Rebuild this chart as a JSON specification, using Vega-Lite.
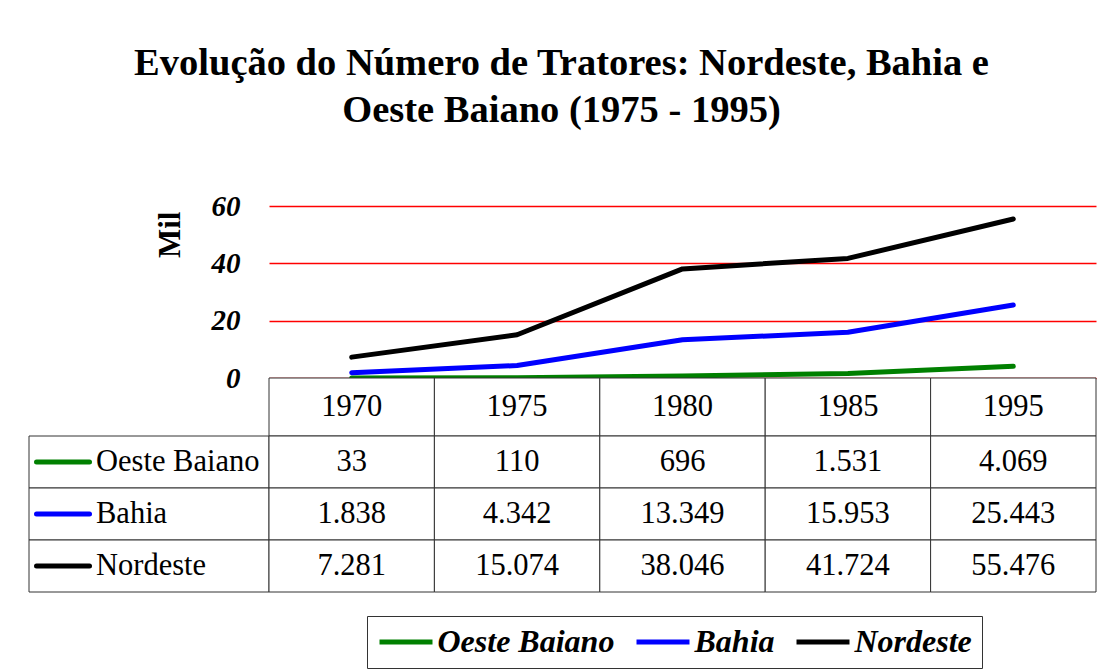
{
  "$schema": "https://vega.github.io/schema/vega-lite/v6.json",
  "background": "white",
  "padding": {"left": 26, "top": 43, "right": 0, "bottom": 0},
  "title": {
    "text": ["Evolução do Número de Tratores: Nordeste, Bahia e", "Oeste Baiano (1975 - 1995)"],
    "font": "Liberation Serif",
    "fontSize": 38.5,
    "fontWeight": "bold",
    "lineHeight": 47,
    "color": "black",
    "anchor": "middle",
    "offset": 62
  },
  "datasets": {
    "tratores": [
      {"regiao": "Oeste Baiano", "ano": "1970", "tratores": 33},
      {"regiao": "Oeste Baiano", "ano": "1975", "tratores": 110},
      {"regiao": "Oeste Baiano", "ano": "1980", "tratores": 696},
      {"regiao": "Oeste Baiano", "ano": "1985", "tratores": 1531},
      {"regiao": "Oeste Baiano", "ano": "1995", "tratores": 4069},
      {"regiao": "Bahia", "ano": "1970", "tratores": 1838},
      {"regiao": "Bahia", "ano": "1975", "tratores": 4342},
      {"regiao": "Bahia", "ano": "1980", "tratores": 13349},
      {"regiao": "Bahia", "ano": "1985", "tratores": 15953},
      {"regiao": "Bahia", "ano": "1995", "tratores": 25443},
      {"regiao": "Nordeste", "ano": "1970", "tratores": 7281},
      {"regiao": "Nordeste", "ano": "1975", "tratores": 15074},
      {"regiao": "Nordeste", "ano": "1980", "tratores": 38046},
      {"regiao": "Nordeste", "ano": "1985", "tratores": 41724},
      {"regiao": "Nordeste", "ano": "1995", "tratores": 55476}
    ]
  },
  "columns": 2,
  "spacing": 0,
  "bounds": "flush",
  "concat": [
    {
      "data": {"values": []},
      "mark": "point",
      "width": 240,
      "height": 172
    },
    {
      "data": {"name": "tratores"},
      "width": 827,
      "height": 172,
      "mark": {"type": "line", "strokeWidth": 5, "strokeJoin": "round", "strokeCap": "round"},
      "encoding": {
        "x": {"field": "ano", "type": "ordinal", "scale": {"type": "point", "padding": 0.5}, "axis": null},
        "y": {
          "field": "tratores",
          "type": "quantitative",
          "scale": {"domain": [0, 60000], "nice": false},
          "axis": {
            "values": [0, 20000, 40000, 60000],
            "labelExpr": "format(datum.value / 1000, 'd')",
            "title": "Mil",
            "titleFont": "Liberation Serif",
            "titleFontSize": 31,
            "titleFontWeight": "bold",
            "titleColor": "black",
            "titleAnchor": "end",
            "titleY": 5,
            "titlePadding": 25,
            "labelFont": "Liberation Serif",
            "labelFontSize": 29,
            "labelFontStyle": "italic",
            "labelFontWeight": "bold",
            "labelColor": "black",
            "labelPadding": 29,
            "ticks": false,
            "domain": false,
            "grid": true,
            "gridColor": "#ff0000",
            "gridWidth": 1.5,
            "gridOpacity": 1
          }
        },
        "color": {
          "field": "regiao",
          "type": "nominal",
          "scale": {"domain": ["Oeste Baiano", "Bahia", "Nordeste"], "range": ["#008000", "#0000ff", "#000000"]},
          "legend": {
            "orient": "none",
            "legendX": 338,
            "legendY": 410,
            "direction": "horizontal",
            "title": null,
            "strokeColor": "#333333",
            "padding": 10,
            "symbolType": "M-2,0H2",
            "symbolSize": 702,
            "symbolOffset": 13,
            "symbolStrokeWidth": 5,
            "symbolFillColor": "transparent",
            "labelFont": "Liberation Serif",
            "labelFontSize": 32,
            "labelFontStyle": "italic",
            "labelFontWeight": "bold",
            "labelColor": "black",
            "labelOffset": 15.5,
            "columnPadding": 11,
            "labelLimit": 400
          }
        }
      }
    },
    {
      "data": {"values": []},
      "mark": "point",
      "width": 240,
      "height": 58
    },
    {
      "data": {"name": "tratores"},
      "transform": [{"filter": "datum.regiao == 'Nordeste'"}],
      "width": 827,
      "height": 58,
      "encoding": {
        "x": {"field": "ano", "type": "ordinal", "scale": {"paddingInner": 0, "paddingOuter": 0}, "axis": null}
      },
      "layer": [
        {"mark": {"type": "rect", "fill": "white", "stroke": "#333333", "strokeWidth": 1}},
        {
          "mark": {"type": "text", "font": "Liberation Serif", "fontSize": 30.5, "color": "black"},
          "encoding": {"text": {"field": "ano"}}
        }
      ]
    },
    {
      "data": {"name": "tratores"},
      "transform": [{"filter": "datum.ano == '1970'"}],
      "width": 240,
      "height": 156,
      "encoding": {
        "y": {
          "field": "regiao",
          "type": "nominal",
          "scale": {"domain": ["Oeste Baiano", "Bahia", "Nordeste"], "paddingInner": 0, "paddingOuter": 0},
          "axis": null
        }
      },
      "layer": [
        {"mark": {"type": "rect", "fill": "white", "stroke": "#333333", "strokeWidth": 1}},
        {
          "mark": {"type": "point", "shape": "stroke", "size": 2809, "strokeWidth": 5, "strokeCap": "round", "filled": false, "opacity": 1, "xOffset": -86},
          "encoding": {
            "color": {
              "field": "regiao",
              "type": "nominal",
              "scale": {"domain": ["Oeste Baiano", "Bahia", "Nordeste"], "range": ["#008000", "#0000ff", "#000000"]},
              "legend": null
            }
          }
        },
        {
          "mark": {"type": "text", "align": "left", "xOffset": -53, "font": "Liberation Serif", "fontSize": 30.5, "color": "black"},
          "encoding": {"text": {"field": "regiao"}}
        }
      ]
    },
    {
      "data": {"name": "tratores"},
      "width": 827,
      "height": 156,
      "encoding": {
        "x": {"field": "ano", "type": "ordinal", "scale": {"paddingInner": 0, "paddingOuter": 0}, "axis": null},
        "y": {"field": "regiao", "type": "nominal", "scale": {"domain": ["Oeste Baiano", "Bahia", "Nordeste"], "paddingInner": 0, "paddingOuter": 0}, "axis": null}
      },
      "layer": [
        {"mark": {"type": "rect", "fill": "white", "stroke": "#333333", "strokeWidth": 1}},
        {
          "mark": {"type": "text", "font": "Liberation Serif", "fontSize": 30.5, "color": "black"},
          "encoding": {"text": {"field": "tratores", "type": "quantitative", "format": ",d"}}
        }
      ]
    }
  ],
  "config": {
    "view": {"stroke": null},
    "font": "Liberation Serif",
    "locale": {"number": {"decimal": ",", "thousands": ".", "grouping": [3], "currency": ["R$", ""]}}
  }
}
